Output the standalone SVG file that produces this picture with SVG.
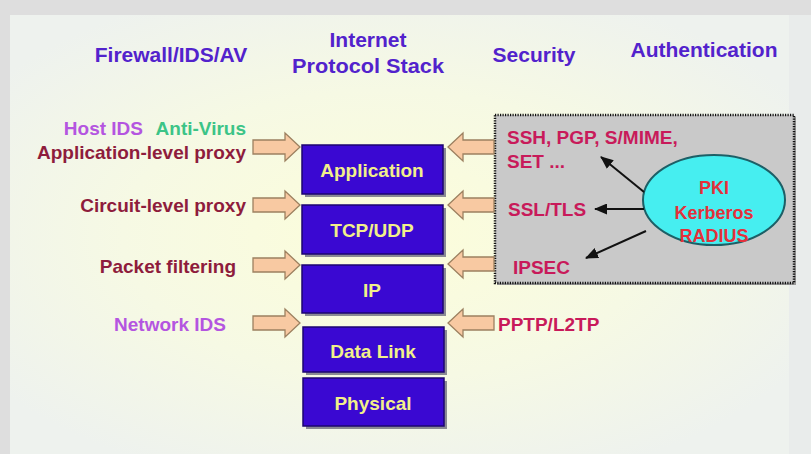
<svg xmlns="http://www.w3.org/2000/svg" width="811" height="454" viewBox="0 0 811 454">
  <defs>
    <radialGradient id="panelGlow" cx="0.47" cy="0.5" r="0.6">
      <stop offset="0" stop-color="#fcfdda"/>
      <stop offset="0.55" stop-color="#f6f9e4"/>
      <stop offset="1" stop-color="#eef2ee"/>
    </radialGradient>
    <marker id="blackHead" viewBox="0 0 13 11" refX="12" refY="5.5" markerWidth="13" markerHeight="11" markerUnits="userSpaceOnUse" orient="auto">
      <path d="M0,0 L13,5.5 L0,11 Z" fill="#111"/>
    </marker>
    <path id="arrowRight" d="M0,-7 H32 V-14 L47,0 L32,14 V7 H0 Z"/>
    <path id="arrowLeft" d="M0,-7 H-31 V-14 L-46,0 L-31,14 V7 H0 Z"/>
  </defs>
  <style>
    text { font-family: "Liberation Sans", Arial, sans-serif; font-weight: bold; }
    .title { font-size: 21px; fill: #5222cc; text-anchor: middle; }
    .lbl { font-size: 19px; text-anchor: end; }
    .proxy { fill: #8e1c3c; }
    .ids { fill: #b455e0; }
    .av { fill: #3cc487; }
    .layer rect.box { fill: #3a08d2; stroke: #1c0470; stroke-width: 1.5; }
    .layer rect.shadow { fill: #8a8a94; }
    .layer text { font-size: 19px; fill: #f2f08a; text-anchor: middle; }
    .sec { font-size: 19px; fill: #c81a5a; }
    .auth { font-size: 18px; fill: #e4303a; text-anchor: middle; }
    .fat { fill: #f8c9a2; stroke: #9c8060; stroke-width: 1.3; }
    .ptr { stroke: #111; stroke-width: 2; fill: none; marker-end: url(#blackHead); }
  </style>

  <!-- backdrop and slide panel -->
  <rect x="0" y="0" width="811" height="454" fill="#dedede"/>
  <rect x="10" y="15" width="801" height="439" fill="url(#panelGlow)"/>
  <rect x="789" y="15" width="22" height="439" fill="#e9eceb"/>

  <!-- column headings -->
  <g id="headings">
    <text class="title" x="171" y="62">Firewall/IDS/AV</text>
    <text class="title" x="368" y="47">Internet</text>
    <text class="title" x="368" y="73" textLength="152" lengthAdjust="spacingAndGlyphs">Protocol Stack</text>
    <text class="title" x="534" y="62">Security</text>
    <text class="title" x="704" y="57">Authentication</text>
  </g>

  <!-- firewall / IDS / AV labels -->
  <g id="fw-labels">
    <text class="lbl ids" x="143" y="135">Host IDS</text>
    <text class="lbl av" x="246" y="135">Anti-Virus</text>
    <text class="lbl proxy" x="246" y="159">Application-level proxy</text>
    <text class="lbl proxy" x="246" y="212">Circuit-level proxy</text>
    <text class="lbl proxy" x="236" y="273">Packet filtering</text>
    <text class="lbl ids" x="226" y="331">Network IDS</text>
  </g>

  <!-- security / authentication box -->
  <g id="security-box">
    <rect x="497" y="117" width="299" height="168" fill="#9a9a9a"/>
    <rect x="495" y="115" width="299" height="168" fill="#c9c9c9" stroke="#111" stroke-width="2.5" stroke-dasharray="1.2 1.3"/>
    <text class="sec" x="507" y="144">SSH, PGP, S/MIME,</text>
    <text class="sec" x="507" y="168">SET ...</text>
    <text class="sec" x="508" y="216">SSL/TLS</text>
    <text class="sec" x="513" y="274">IPSEC</text>
  </g>

  <g id="auth-ellipse">
    <ellipse cx="714" cy="200" rx="71" ry="45" fill="#46eef0" stroke="#1d5f66" stroke-width="2"/>
    <text class="auth" x="714" y="194">PKI</text>
    <text class="auth" x="714" y="219">Kerberos</text>
    <text class="auth" x="714" y="242">RADIUS</text>
  </g>

  <g id="pptp">
    <text class="sec" x="498" y="331" font-size="20">PPTP/L2TP</text>
  </g>

  <!-- protocol stack layers -->
  <g id="layer-application" class="layer">
    <rect class="shadow" x="305" y="148" width="141" height="49"/>
    <rect class="box" x="302" y="145" width="141" height="49"/>
    <text x="372" y="177">Application</text>
  </g>
  <g id="layer-tcpudp" class="layer">
    <rect class="shadow" x="305" y="208" width="141" height="49"/>
    <rect class="box" x="302" y="205" width="141" height="49"/>
    <text x="372" y="237">TCP/UDP</text>
  </g>
  <g id="layer-ip" class="layer">
    <rect class="shadow" x="305" y="268" width="141" height="48"/>
    <rect class="box" x="302" y="265" width="141" height="48"/>
    <text x="372" y="297">IP</text>
  </g>
  <g id="layer-datalink" class="layer">
    <rect class="shadow" x="306" y="330" width="141" height="45"/>
    <rect class="box" x="303" y="327" width="141" height="45"/>
    <text x="373" y="358">Data Link</text>
  </g>
  <g id="layer-physical" class="layer">
    <rect class="shadow" x="306" y="381" width="141" height="48"/>
    <rect class="box" x="303" y="378" width="141" height="48"/>
    <text x="373" y="410">Physical</text>
  </g>

  <!-- connectors -->
  <g id="connectors">
    <use href="#arrowRight" class="fat" x="253" y="147"/>
    <use href="#arrowRight" class="fat" x="253" y="205"/>
    <use href="#arrowRight" class="fat" x="253" y="265"/>
    <use href="#arrowRight" class="fat" x="253" y="323"/>
    <use href="#arrowLeft" class="fat" x="494" y="147"/>
    <use href="#arrowLeft" class="fat" x="494" y="205"/>
    <use href="#arrowLeft" class="fat" x="494" y="264"/>
    <use href="#arrowLeft" class="fat" x="494" y="323"/>
    <line class="ptr" x1="644" y1="192" x2="601" y2="157"/>
    <line class="ptr" x1="644" y1="209" x2="595" y2="209"/>
    <line class="ptr" x1="646" y1="231" x2="586" y2="258"/>
  </g>
</svg>
